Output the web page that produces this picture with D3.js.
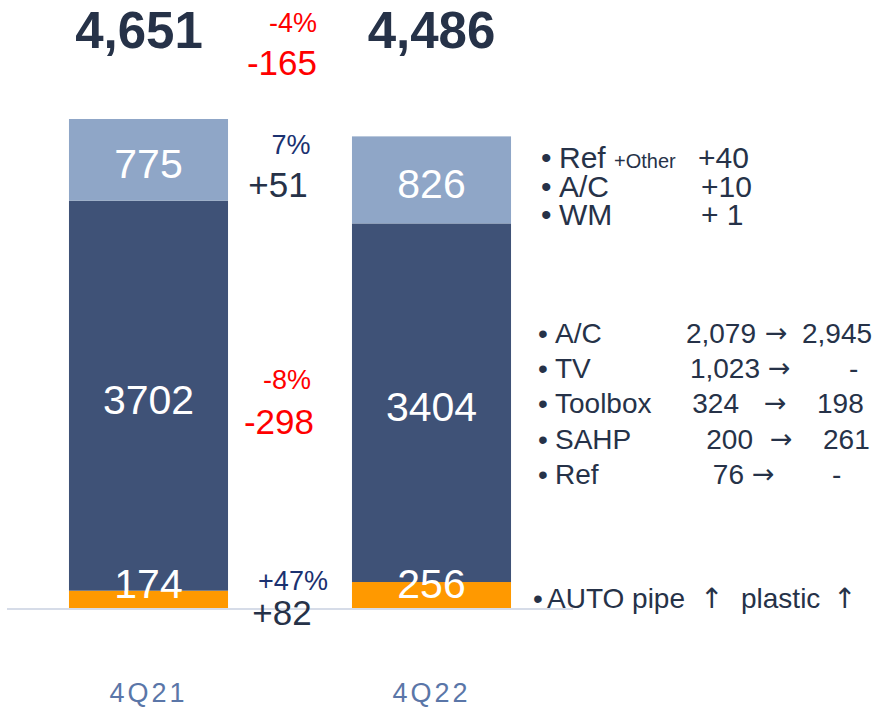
<!DOCTYPE html>
<html>
<head>
<meta charset="utf-8">
<script src="https://cdn.jsdelivr.net/npm/d3@7"></script>
<style>
  body { margin:0; background:#fff; }
  #canvas { width:879px; height:707px; }
  text { font-family: "Liberation Sans", Arial, sans-serif; }
  .arrow { font-family: "DejaVu Sans", sans-serif; }
</style>
</head>
<body>
<div id="canvas" class="canvas"></div>
<script>
//---- ---- DATA ---- ----
var quarters = ['4Q21', '4Q22'];
var segments = ['base', 'mid', 'top'];
var baseVals = [174, 256];     // orange (AUTO)
var midVals  = [3702, 3404];   // dark blue
var topVals  = [775, 826];     // light blue
var totalLabels = ['4,651', '4,486'];

// change labels between bars: [pct, abs]
var totalDelta = ['-4%', '-165'];
var topDelta   = ['7%', '+51'];
var midDelta   = ['-8%', '-298'];
var baseDelta  = ['+47%', '+82'];

var topNotes = [
  ['Ref', '+Other', '+40'],
  ['A/C', '', '+10'],
  ['WM', '', '+ 1']
];
var midNoteNames = ['A/C', 'TV', 'Toolbox', 'SAHP', 'Ref'];
var midNoteFrom  = ['2,079', '1,023', '324', '200', '76'];
var midNoteTo    = ['2,945', '-', '198', '261', '-'];
var baseNote = ['AUTO pipe', 'plastic'];

var colors = { base:'#ff9900', mid:'#3f5277', top:'#8fa6c7' };
var dark = '#263248', navy = '#1b3170', red = '#ff0000';

//---- ---- SETUP ---- ----
var W = 879, H = 707;
var svg = d3.select('.canvas').append('svg')
    .attr('width', W).attr('height', H);

var rows = quarters.map(function(q, i) {
  return { q:q, base:baseVals[i], mid:midVals[i], top:topVals[i] };
});

var scaleX = d3.scaleBand()
    .domain(quarters)
    .range([7, 573])
    .paddingInner(0.438)
    .paddingOuter(0.219);

var scaleY = d3.scaleLinear()
    .domain([0, d3.max(rows, function(d){ return d.base + d.mid + d.top; })])
    .range([609, 119]);

var stack = d3.stack().keys(segments)(rows);
var bw = scaleX.bandwidth();

//---- ---- BARS ---- ----
var layer = svg.selectAll('g.layer')
    .data(stack).enter()
    .append('g').attr('class', 'layer')
    .attr('fill', function(d){ return colors[d.key]; });

layer.selectAll('rect')
    .data(function(d){ return d; }).enter()
    .append('rect')
    .attr('x', function(d){ return scaleX(d.data.q); })
    .attr('width', bw)
    .attr('y', function(d){ return scaleY(d[1]); })
    .attr('height', function(d){ return scaleY(d[0]) - scaleY(d[1]); });

// baseline
svg.append('line')
    .attr('x1', scaleX.range()[0]).attr('x2', scaleX.range()[1])
    .attr('y1', scaleY(0)).attr('y2', scaleY(0))
    .attr('stroke', '#d6dce8').attr('stroke-width', 2);

// value labels inside segments (drawn over all rects)
var segLabels = [];
stack.forEach(function(s) {
  s.forEach(function(p) { segLabels.push({ key:s.key, p:p }); });
});
svg.append('g').selectAll('text')
    .data(segLabels).enter()
    .append('text')
    .attr('x', function(d){ return scaleX(d.p.data.q) + bw/2; })
    .attr('y', function(d){
      if (d.key === 'base') return scaleY(0) - 11;
      return (scaleY(d.p[0]) + scaleY(d.p[1])) / 2 + 18.5;
    })
    .attr('text-anchor', 'middle')
    .attr('fill', '#fff')
    .style('font-size', '41px')
    .text(function(d){ return d.p.data[d.key]; });

// totals
var totalShift = [-9.5, 0];
svg.selectAll('text.total')
    .data(rows).enter()
    .append('text').attr('class', 'total')
    .attr('x', function(d, i){ return scaleX(d.q) + bw/2 + totalShift[i]; })
    .attr('y', 48)
    .attr('text-anchor', 'middle')
    .attr('fill', dark)
    .style('font-size', '51px').style('font-weight', 'bold')
    .text(function(d, i){ return totalLabels[i]; });

// category axis labels
svg.selectAll('text.cat')
    .data(quarters).enter()
    .append('text').attr('class', 'cat')
    .attr('x', function(d){ return scaleX(d) + bw/2; })
    .attr('y', 702)
    .attr('text-anchor', 'middle')
    .attr('fill', '#5a76a8')
    .style('font-size', '27px').style('letter-spacing', '3px')
    .text(function(d){ return d; });

//---- ---- DELTAS ---- ----
var gapX = (scaleX(quarters[0]) + bw + scaleX(quarters[1])) / 2;
function delta(pair, yPct, yAbs, pctColor, absColor, dxPct, dxAbs) {
  svg.append('text')
      .attr('x', gapX + dxPct).attr('y', yPct)
      .attr('text-anchor', 'middle').attr('fill', pctColor)
      .style('font-size', '27px').text(pair[0]);
  svg.append('text')
      .attr('x', gapX + dxAbs).attr('y', yAbs)
      .attr('text-anchor', 'middle').attr('fill', absColor)
      .style('font-size', '35px').text(pair[1]);
}
delta(totalDelta, 32, 75, red, red, 3, -8);
delta(topDelta, 154, 197, navy, dark, 1, -12);
delta(midDelta, 389, 434, red, red, -3, -11);
delta(baseDelta, 590, 625, navy, dark, 3, -8);

//---- ---- NOTES ---- ----
var notes = svg.append('g').attr('fill', dark);
function note(x, y, size, str, cls) {
  return notes.append('text').attr('class', cls || null)
      .attr('x', x).attr('y', y).style('font-size', size + 'px').text(str);
}

// top segment notes: one multi-line text block
var tb = notes.append('text').style('font-size', '30px');
topNotes.forEach(function(n, i) {
  var y = 168 + i * 28.5;
  tb.append('tspan').attr('x', 541).attr('y', y).text('•');
  tb.append('tspan').attr('x', 559).attr('y', y).text(n[0]);
  if (n[1]) tb.append('tspan').attr('x', 614).attr('y', y).style('font-size', '20px').text(n[1]);
  tb.append('tspan').attr('x', 698 + (i ? 3 : 0)).attr('y', y).text(n[2]);
});

var colTo = [802, 849, 817, 823, 832];
var fromEnd = [756, 760, 739, 753, 744];
var arrowX = [765, 768, 764, 770, 752];
midNoteNames.forEach(function(n, i) {
  var y = 343 + i * 35.2;
  note(538, y, 28, '•');
  note(555, y, 28, n);
  note(fromEnd[i], y, 28, midNoteFrom[i]).attr('text-anchor', 'end');
  note(arrowX[i], y - 1, 27, '→', 'arrow');
  note(colTo[i], y, 28, midNoteTo[i]);
});

note(533, 608, 28, '•');
note(547, 608, 28, baseNote[0]);
note(741, 608, 28, baseNote[1]);
[700, 833].forEach(function(x) { note(x, 608, 28, '↑', 'arrow'); });
</script>
</body>
</html>
